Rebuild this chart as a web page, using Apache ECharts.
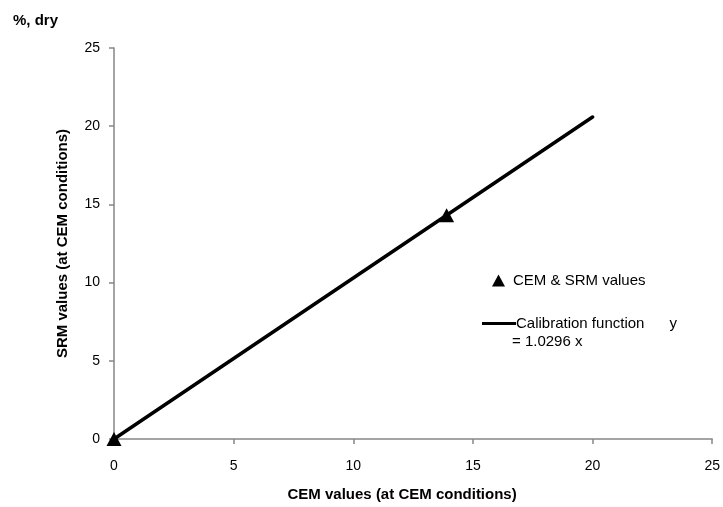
<!DOCTYPE html>
<html>
<head>
<meta charset="utf-8">
<script src="https://cdn.jsdelivr.net/npm/echarts@6/dist/echarts.min.js"></script>
<style>
  html, body { margin: 0; padding: 0; background: #fff; }
  #chart { width: 723px; height: 507px; }
</style>
</head>
<body>
<div id="chart"></div>
<script>
// measured points (CEM vs SRM)
const pointX = [0, 13.9]
const pointY = [0, 14.3]
// calibration function y = 1.0296 x, drawn from 0 to 20
const calibX = [0, 20]
const calibY = [0, 20.59]

const font = 'Liberation Sans'
const axisColor = '#868686'

const chart = echarts.init(document.getElementById('chart'))
const options = {
  animation: false,
  title: {
    text: '%, dry',
    left: 8,
    top: 8,
    textStyle: { fontFamily: font, fontSize: 15, fontWeight: 'bold', color: '#000' }
  },
  grid: { left: 114, right: 8, top: 48, bottom: 66, containLabel: false },
  legend: [
    {
      data: [{ name: 'CEM & SRM values', icon: 'triangle' }],
      left: 487,
      top: 268,
      itemWidth: 13,
      itemHeight: 12,
      itemGap: 8,
      selectedMode: false,
      textStyle: { fontFamily: font, fontSize: 15, color: '#000', padding: [0, 0, 0, 3] },
      itemStyle: { color: '#000', opacity: 1 }
    },
    {
      data: [{ name: 'Calibration function', icon: 'rect' }],
      left: 477,
      top: 311,
      itemWidth: 34,
      itemHeight: 3,
      itemGap: 0,
      selectedMode: false,
      formatter: name => name + '      y',
      textStyle: { fontFamily: font, fontSize: 15, color: '#000', padding: [0, 0, 0, -5] },
      itemStyle: { color: '#000', opacity: 1 }
    }
  ],
  graphic: [
    {
      type: 'text',
      left: 512,
      top: 334,
      style: { text: '= 1.0296 x', font: '15px ' + font, fill: '#000' }
    }
  ],
  xAxis: {
    type: 'value',
    min: 0,
    max: 25,
    interval: 5,
    name: 'CEM values (at CEM conditions)',
    nameLocation: 'middle',
    nameGap: 48,
    nameTextStyle: { fontFamily: font, fontSize: 15, fontWeight: 'bold', color: '#000', padding: [0, 22, 0, 0] },
    axisLine: { show: true, onZero: false, lineStyle: { color: axisColor, width: 1.5 } },
    axisTick: { show: true, inside: false, length: 5, lineStyle: { color: axisColor, width: 1.5 } },
    axisLabel: { margin: 20, fontFamily: font, fontSize: 14, color: '#000' },
    splitLine: { show: false }
  },
  yAxis: {
    type: 'value',
    min: 0,
    max: 25,
    interval: 5,
    name: 'SRM values (at CEM conditions)',
    nameLocation: 'middle',
    nameGap: 44,
    nameRotate: 90,
    nameTextStyle: { fontFamily: font, fontSize: 15, fontWeight: 'bold', color: '#000' },
    axisLine: { show: true, onZero: false, lineStyle: { color: axisColor, width: 1.5 } },
    axisTick: { show: true, inside: false, length: 5, lineStyle: { color: axisColor, width: 1.5 } },
    axisLabel: { margin: 14, fontFamily: font, fontSize: 14, color: '#000' },
    splitLine: { show: false }
  },
  series: [
    {
      name: 'Calibration function',
      type: 'line',
      data: calibX.map((x, i) => [x, calibY[i]]),
      showSymbol: false,
      symbol: 'none',
      color: '#000',
      lineStyle: { color: '#000', width: 3.5, cap: 'round' },
      z: 2
    },
    {
      name: 'CEM & SRM values',
      type: 'scatter',
      data: pointX.map((x, i) => [x, pointY[i]]),
      symbol: 'triangle',
      symbolSize: [15, 14],
      clip: false,
      itemStyle: { color: '#000', opacity: 1 },
      z: 3
    }
  ]
}
chart.setOption(options)
</script>
</body>
</html>
